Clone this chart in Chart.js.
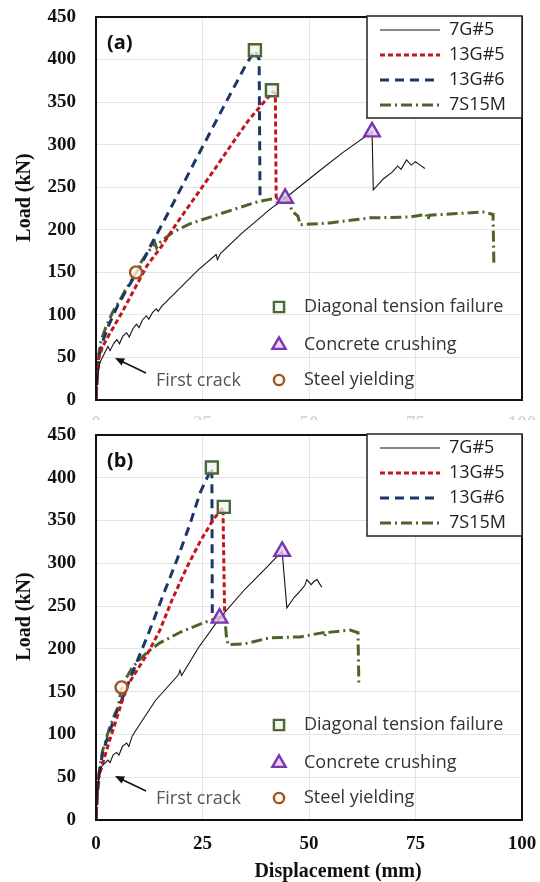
<!DOCTYPE html>
<html>
<head>
<meta charset="utf-8">
<script src="https://cdn.jsdelivr.net/npm/chart.js@4.4.0/dist/chart.umd.min.js"></script>
<style>
  html, body { margin: 0; padding: 0; background: #fff; }
  body { width: 540px; height: 882px; position: relative; overflow: hidden; }
  .panel { position: absolute; left: 0; width: 540px; background: #fff; }
  #panelA { top: 0; height: 420px; }
  #panelB { top: 420px; height: 462px; }
</style>
</head>
<body>
<div class="panel" id="panelA"><canvas id="chartA"></canvas></div>
<div class="panel" id="panelB"><canvas id="chartB"></canvas></div>
<script>
// specimens, in legend order
const seriesNames = ['7G#5', '13G#5', '13G#6', '7S15M'];
const failureNames = ['Diagonal tension failure', 'Concrete crushing', 'Steel yielding'];
const xTickStep = 25;   // displacement (mm)
const yTickStep = 50;   // load (kN)

// ---- panel (a): [displacement mm, load kN] ----
const a7G5 = [[0,0],[0.3,22],[0.8,42],[1.3,48],[2.0,55],[2.8,63],[3.3,58],[4.1,66],[4.9,71],[5.5,66],[6.3,75],[7.2,79],[7.8,74],[8.7,84],[9.5,89],[10.1,85],[10.9,94],[11.8,99],[12.4,95],[13.3,103],[14.2,107],[14.6,104],[15.4,110],[20,133],[24,153],[28.2,171],[28.5,165],[29.2,172],[34,195],[40.8,224],[44.4,237],[52.6,270],[58,291],[64.8,315],[65.1,247],[67.5,260],[69.6,268],[70.8,275],[71.6,271],[72.9,282],[74,276],[75,280],[76.1,276],[77.2,272]];
const a13G5 = [[0,0],[0.3,30],[0.6,48],[1.5,62],[3,76],[6,102],[9,130],[12,158],[15.3,180],[19,208],[22.8,235],[27,265],[32.2,303],[36,330],[41.5,362],[42.1,360],[42.3,233]];
const a13G6 = [[0,0],[0.3,30],[0.7,52],[1.5,68],[3,88],[5,110],[7,128],[9,145],[11,163],[13,183],[15.7,208],[18,230],[23.7,285],[30,345],[35,392],[37.3,411],[38.3,400],[38.5,238]];
const a7S15M = [[0,0],[0.3,35],[0.7,55],[1.2,70],[2.5,88],[4,104],[5.6,117],[7,130],[8.3,140],[9.4,150],[10.6,162],[11.8,171],[13.2,180],[13.8,185],[14.2,179],[15.2,186],[18,197],[22,207],[27.5,216],[33,225],[38,233],[41,236],[44.4,238],[45.4,232],[46,222],[47.4,216],[47.9,206],[54.9,208],[64.3,214],[73.7,215],[77.5,218],[77.9,212],[78.3,217],[84.7,219],[90.8,221],[93.2,218],[93.3,190],[93.4,158]];
const aDiagonal = [[37.3,411],[41.3,364]];
const aCrushing = [[44.4,237],[64.8,315]];
const aYielding = [[9.4,150]];

// ---- panel (b) ----
const b7G5 = [[0,0],[0.3,30],[0.8,55],[1.2,62],[2,66],[2.8,70],[3.3,67],[4,76],[4.8,79],[5.4,76],[6.2,86],[7.2,90],[7.7,86],[8.5,98],[9.9,109],[14,140],[19.4,170],[19.7,175],[20.1,169],[24,201],[28.9,235],[35,270],[40,295],[43.7,314],[44.8,248],[46.5,260],[48,268],[49,274],[49.5,281],[50.5,275],[51.2,279],[51.9,281],[52.5,276],[53,272]];
const b13G5 = [[0,0],[0.3,30],[0.5,47],[1.5,65],[3,90],[4.5,113],[6,137],[7.5,158],[10,178],[12.5,198],[15,222],[18,259],[21.4,296],[24.5,326],[27.5,351],[29.8,365],[30.2,240]];
const b13G6 = [[0,0],[0.3,30],[0.8,55],[1.6,80],[3,100],[4.5,122],[6,140],[8,165],[10,190],[12,214],[13.4,232],[16,266],[19,304],[22,345],[24.4,382],[27.2,412],[27.3,242]];
const b7S15M = [[0,0],[0.3,35],[0.7,55],[1.6,82],[3,105],[4.5,125],[5.2,132],[5.9,152],[7,165],[8.5,178],[10.3,188],[12.5,198],[15,207],[20,220],[25,230],[29,237],[30.3,233],[30.6,215],[31,205],[35,206],[40.8,213],[47.9,214],[53.3,219],[53.6,214],[54,219],[59.6,222],[61.5,219],[61.6,190],[61.7,160]];
const bDiagonal = [[27.2,412],[30,366]];
const bCrushing = [[29,236],[43.7,314]];
const bYielding = [[6,155]];

const lineStyles = [
  { color: '#151515', width: 1.1, dash: [] },
  { color: '#c3161c', width: 3, dash: [5, 3] },
  { color: '#1d3668', width: 3, dash: [9, 6] },
  { color: '#4b6429', width: 3, dash: [11, 4, 2, 4] }
];
const markerStyles = [
  { style: 'rect', radius: 8.5, color: '#4a6838', fill: 'rgba(240,244,236,0.75)' },
  { style: 'triangle', radius: 9, color: '#7a35b0', fill: 'rgba(225,205,240,0.8)' },
  { style: 'circle', radius: 6, color: '#a0541f', fill: 'rgba(255,250,240,0.8)' }
];

const serif = '"Liberation Serif", "Times New Roman", serif';
const sans = '"Open Sans", Lato, sans-serif';

const toXY = pts => pts.map(p => ({ x: p[0], y: p[1] }));

function buildDatasets(curves, markers) {
  const sets = [];
  markers.forEach((pts, i) => {
    const m = markerStyles[i];
    sets.push({
      label: failureNames[i],
      data: toXY(pts),
      showLine: false,
      pointStyle: m.style,
      pointRadius: m.radius,
      pointBorderWidth: 2.4,
      pointBorderColor: m.color,
      pointBackgroundColor: m.fill
    });
  });
  curves.forEach((pts, i) => {
    const s = lineStyles[i];
    sets.push({
      label: seriesNames[i],
      data: toXY(pts),
      showLine: true,
      borderColor: s.color,
      borderWidth: s.width,
      borderDash: s.dash,
      pointRadius: 0,
      tension: 0,
      fill: false
    });
  });
  return sets;
}

function drawMarker(ctx, i, x, y, scale) {
  const m = markerStyles[i];
  const r = m.radius * scale;
  ctx.save();
  ctx.lineWidth = 2.4;
  ctx.strokeStyle = m.color;
  ctx.fillStyle = m.fill;
  ctx.beginPath();
  if (m.style === 'rect') {
    const h = r * Math.SQRT1_2;
    ctx.rect(x - h, y - h, 2 * h, 2 * h);
  } else if (m.style === 'triangle') {
    ctx.moveTo(x, y - r);
    ctx.lineTo(x + r * 0.866, y + r * 0.5);
    ctx.lineTo(x - r * 0.866, y + r * 0.5);
    ctx.closePath();
  } else {
    ctx.arc(x, y, r, 0, Math.PI * 2);
  }
  ctx.fill();
  ctx.stroke();
  ctx.restore();
}

// frame, legends, annotation and titles
function decorPlugin(panelLabel, showXTitle) {
  return {
    id: 'decor' + panelLabel,
    afterDraw(chart) {
      const ctx = chart.ctx;
      const a = chart.chartArea;
      ctx.save();

      // plot frame
      ctx.strokeStyle = '#111';
      ctx.lineWidth = 2;
      ctx.strokeRect(a.left, a.top, a.right - a.left, a.bottom - a.top);

      // panel label
      ctx.fillStyle = '#111';
      ctx.font = 'bold 20px ' + sans;
      ctx.textAlign = 'left';
      ctx.textBaseline = 'middle';
      ctx.fillText(panelLabel, a.left + 11, a.top + 26);

      // series legend
      const bx = a.right - 155, by = a.top - 1, bw = 155, bh = 102;
      ctx.fillStyle = '#fff';
      ctx.fillRect(bx, by, bw, bh);
      ctx.strokeStyle = '#222';
      ctx.lineWidth = 1.5;
      ctx.strokeRect(bx, by, bw, bh);
      seriesNames.forEach((name, i) => {
        const s = lineStyles[i];
        const y = by + 14 + i * 25;
        ctx.save();
        ctx.strokeStyle = s.color;
        ctx.lineWidth = s.width;
        ctx.setLineDash(s.dash);
        ctx.beginPath();
        ctx.moveTo(bx + 13, y);
        ctx.lineTo(bx + 73, y);
        ctx.stroke();
        ctx.restore();
        ctx.fillStyle = '#222';
        ctx.font = '18px ' + sans;
        ctx.textAlign = 'left';
        ctx.textBaseline = 'middle';
        ctx.fillText(name, bx + 82, y);
      });

      // failure mode legend
      const rows = [290, 328, 363];
      failureNames.forEach((name, i) => {
        const y = a.top + rows[i];
        drawMarker(ctx, i, a.left + 183, y, 0.85);
        ctx.fillStyle = '#333';
        ctx.font = '18px ' + sans;
        ctx.textAlign = 'left';
        ctx.textBaseline = 'middle';
        ctx.fillText(name, a.left + 208, y);
      });

      // first crack note
      const tx = a.left + 50, ty = a.top + 356;
      const hx = a.left + 19, hy = a.top + 341;
      ctx.strokeStyle = '#111';
      ctx.fillStyle = '#111';
      ctx.lineWidth = 1.5;
      ctx.beginPath();
      ctx.moveTo(tx, ty);
      ctx.lineTo(hx + 6, hy + 3);
      ctx.stroke();
      const ang = Math.atan2(hy - ty, hx - tx);
      ctx.beginPath();
      ctx.moveTo(hx, hy);
      ctx.lineTo(hx - 10 * Math.cos(ang - 0.4), hy - 10 * Math.sin(ang - 0.4));
      ctx.lineTo(hx - 10 * Math.cos(ang + 0.4), hy - 10 * Math.sin(ang + 0.4));
      ctx.closePath();
      ctx.fill();
      ctx.fillStyle = '#555';
      ctx.font = '18px ' + sans;
      ctx.textAlign = 'left';
      ctx.textBaseline = 'middle';
      ctx.fillText('First crack', a.left + 60, a.top + 364);

      // axis titles
      ctx.fillStyle = '#111';
      ctx.font = 'bold 20px ' + serif;
      ctx.textAlign = 'center';
      ctx.textBaseline = 'middle';
      ctx.save();
      ctx.translate(25, (a.top + a.bottom) / 2 - 11);
      ctx.rotate(-Math.PI / 2);
      ctx.fillText('Load (kN)', 0, 0);
      ctx.restore();
      if (showXTitle) {
        ctx.fillText('Displacement (mm)', 338, a.bottom + 52);
      }
      ctx.restore();
    }
  };
}

// fixed axis box, with no extra room taken for overhanging tick labels
function fixBox(size) {
  return s => {
    if (s.isHorizontal()) s.height = size; else s.width = size;
    s.paddingTop = 0; s.paddingBottom = 0; s.paddingLeft = 0; s.paddingRight = 0;
  };
}

function makeChart(id, curves, markers, panelLabel, opts) {
  return new Chart(document.getElementById(id), {
    type: 'scatter',
    data: { datasets: buildDatasets(curves, markers) },
    options: {
      responsive: true,
      maintainAspectRatio: false,
      animation: false,
      layout: { padding: { top: opts.top, right: 18, left: 0, bottom: 0 } },
      plugins: { legend: { display: false }, tooltip: { enabled: false } },
      scales: {
        x: {
          type: 'linear', min: 0, max: 100,
          ticks: {
            stepSize: xTickStep, padding: 13, color: opts.xTickColor,
            font: { family: serif, size: 19, weight: 'bold' }
          },
          grid: { color: '#e4e4e4', drawTicks: false },
          border: { display: false },
          afterFit: fixBox(opts.xHeight)
        },
        y: {
          type: 'linear', min: 0, max: 450,
          ticks: {
            stepSize: yTickStep, padding: 20, color: '#111',
            font: { family: serif, size: 19, weight: 'bold' }
          },
          grid: { color: '#e4e4e4', drawTicks: false },
          border: { display: false },
          afterFit: fixBox(96)
        }
      }
    },
    plugins: [decorPlugin(panelLabel, opts.xTitle)]
  });
}

makeChart('chartA', [a7G5, a13G5, a13G6, a7S15M], [aDiagonal, aCrushing, aYielding], '(a)',
  { top: 17, xHeight: 20, xTickColor: '#d8d8d8', xTitle: false });
makeChart('chartB', [b7G5, b13G5, b13G6, b7S15M], [bDiagonal, bCrushing, bYielding], '(b)',
  { top: 15, xHeight: 62, xTickColor: '#111', xTitle: true });
</script>
</body>
</html>
